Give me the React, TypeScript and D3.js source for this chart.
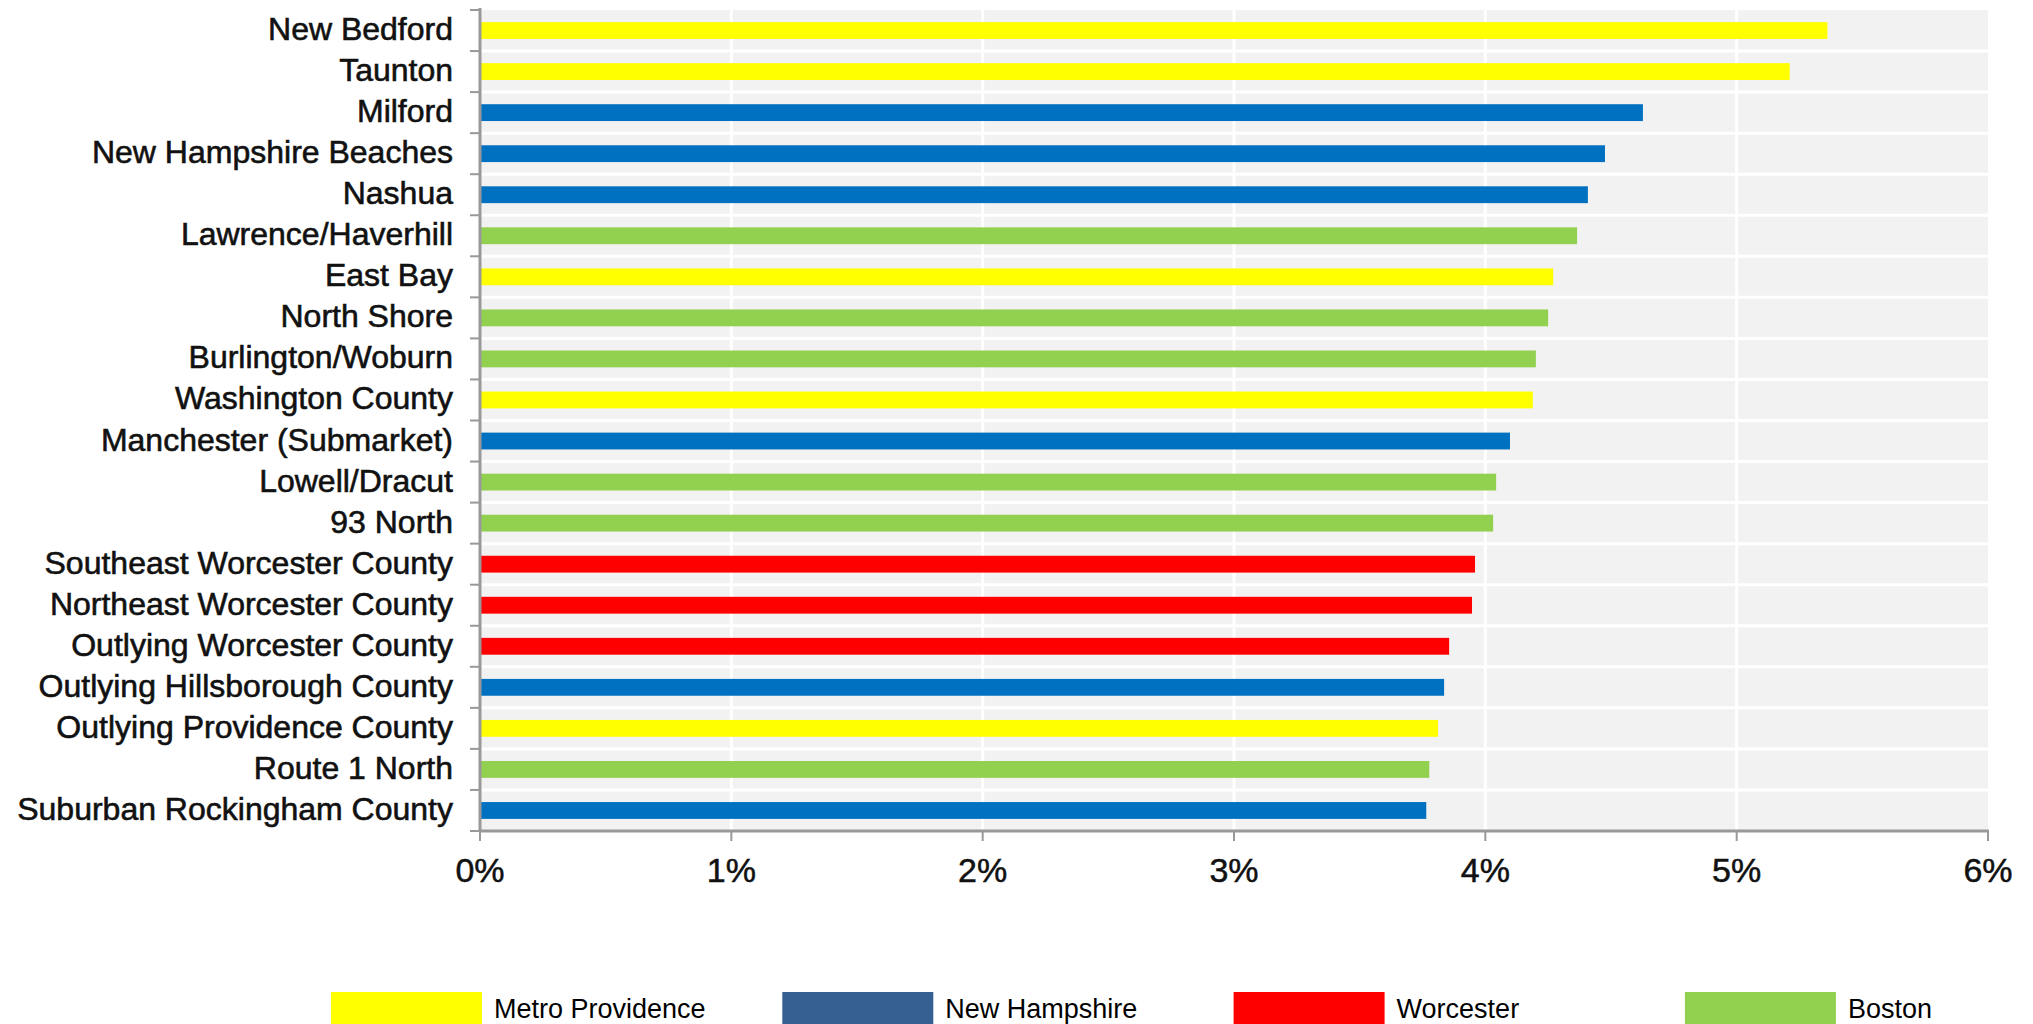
import React from "react";
import * as d3 from "d3";

// Submarket vacancy-style rates, top to bottom
const categories = [
  "New Bedford",
  "Taunton",
  "Milford",
  "New Hampshire Beaches",
  "Nashua",
  "Lawrence/Haverhill",
  "East Bay",
  "North Shore",
  "Burlington/Woburn",
  "Washington County",
  "Manchester (Submarket)",
  "Lowell/Dracut",
  "93 North",
  "Southeast Worcester County",
  "Northeast Worcester County",
  "Outlying Worcester County",
  "Outlying Hillsborough County",
  "Outlying Providence County",
  "Route 1 North",
  "Suburban Rockingham County",
];

const values = [
  0.05361, 0.05211, 0.04627, 0.04476, 0.04408, 0.04365, 0.0427, 0.0425,
  0.04201, 0.04189, 0.04098, 0.04043, 0.04031, 0.03959, 0.03947, 0.03856,
  0.03836, 0.03812, 0.03777, 0.03765,
];

const regions = [
  "Metro Providence",
  "Metro Providence",
  "New Hampshire",
  "New Hampshire",
  "New Hampshire",
  "Boston",
  "Metro Providence",
  "Boston",
  "Boston",
  "Metro Providence",
  "New Hampshire",
  "Boston",
  "Boston",
  "Worcester",
  "Worcester",
  "Worcester",
  "New Hampshire",
  "Metro Providence",
  "Boston",
  "New Hampshire",
];

const legendNames = ["Metro Providence", "New Hampshire", "Worcester", "Boston"];
const barColors = ["#FFFF00", "#0070C0", "#FF0000", "#92D050"];
const legendColors = ["#FFFF00", "#376092", "#FF0000", "#92D050"];

const xTicks = [0, 0.01, 0.02, 0.03, 0.04, 0.05, 0.06];

const W = 2033;
const H = 1024;
const FONT = "'Liberation Sans', Arial, Helvetica, sans-serif";

export default function App() {
  const plotLeft = 480;
  const plotRight = 1988;
  const plotTop = 10;
  const plotBottom = 831;

  const x = d3.scaleLinear().domain([0, 0.06]).range([plotLeft, plotRight]);
  const y = d3
    .scaleBand<string>()
    .domain(categories)
    .range([plotTop, plotBottom])
    .paddingInner(0.59)
    .paddingOuter(0.295);

  const color = d3.scaleOrdinal<string, string>().domain(legendNames).range(barColors);
  const step = y.step();
  const boundaries = d3.range(categories.length + 1).map((k) => plotTop + k * step);
  const fmt = d3.format(".0%");

  return (
    <div style={{ position: "absolute", left: 0, top: 0 }}>
      <svg width={W} height={H} style={{ display: "block", background: "#fff" }}>
        <rect
          x={plotLeft}
          y={plotTop}
          width={plotRight - plotLeft}
          height={plotBottom - plotTop}
          fill="#F2F2F2"
        />
        {/* vertical gridlines */}
        {xTicks.slice(1, -1).map((t) => (
          <line
            key={"vg" + t}
            x1={x(t)}
            x2={x(t)}
            y1={plotTop}
            y2={plotBottom}
            stroke="#fff"
            strokeWidth={3}
          />
        ))}
        {/* horizontal gridlines between categories */}
        {boundaries.slice(1, -1).map((b, i) => (
          <line
            key={"hg" + i}
            x1={plotLeft}
            x2={plotRight}
            y1={b}
            y2={b}
            stroke="#fff"
            strokeWidth={3}
          />
        ))}
        {/* bars */}
        {categories.map((c, i) => (
          <rect
            key={c}
            x={x(0)}
            y={y(c)!}
            width={x(values[i]) - x(0)}
            height={y.bandwidth()}
            fill={color(regions[i])}
          />
        ))}
        {/* category axis */}
        <line x1={plotLeft} x2={plotLeft} y1={plotTop - 2} y2={plotBottom + 1} stroke="#999" strokeWidth={3} />
        {boundaries.map((b, i) => (
          <line key={"yt" + i} x1={plotLeft - 10} x2={plotLeft} y1={b} y2={b} stroke="#999" strokeWidth={2} />
        ))}
        {categories.map((c) => (
          <text
            key={"l" + c}
            x={453}
            y={y(c)! + y.bandwidth() / 2 + 9.5}
            textAnchor="end"
            fontFamily={FONT}
            fontSize={32}
            fill="#111"
            stroke="#111"
            strokeWidth={0.6}
          >
            {c}
          </text>
        ))}
        {/* value axis */}
        <line x1={plotLeft - 1} x2={plotRight + 1} y1={plotBottom} y2={plotBottom} stroke="#999" strokeWidth={3} />
        {xTicks.map((t) => (
          <g key={"xt" + t}>
            <line x1={x(t)} x2={x(t)} y1={plotBottom} y2={plotBottom + 10} stroke="#999" strokeWidth={2} />
            <text
              x={x(t)}
              y={882}
              textAnchor="middle"
              fontFamily={FONT}
              fontSize={34}
              fill="#111"
              stroke="#111"
              strokeWidth={0.5}
            >
              {fmt(t)}
            </text>
          </g>
        ))}
        {/* legend */}
        {legendNames.map((n, i) => {
          const lx = 331 + i * 451.3;
          return (
            <g key={"lg" + n}>
              <rect x={lx} y={992} width={151} height={40} fill={legendColors[i]} />
              <text x={lx + 163} y={1018} fontFamily={FONT} fontSize={27} fill="#000">
                {n}
              </text>
            </g>
          );
        })}
      </svg>
    </div>
  );
}
